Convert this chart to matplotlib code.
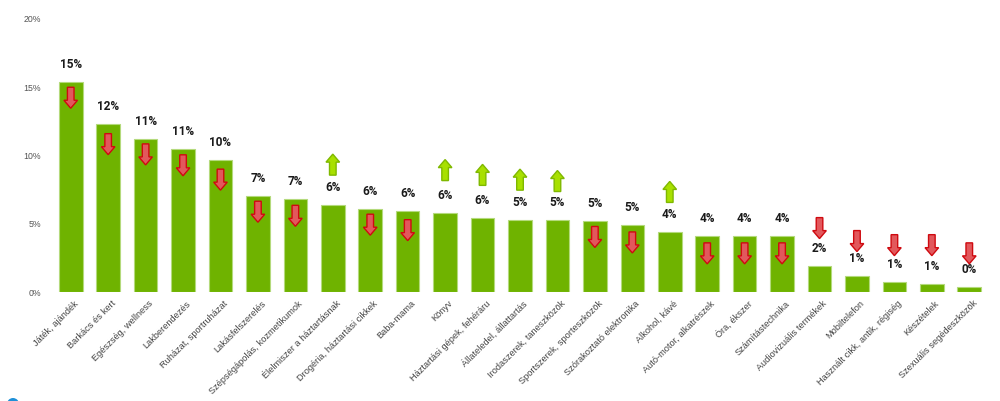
import matplotlib
matplotlib.use("Agg")
import matplotlib.pyplot as plt
from matplotlib.patches import Polygon, Circle
from matplotlib.transforms import ScaledTranslation, IdentityTransform

plt.rcParams['font.family'] = ['Liberation Sans', 'DejaVu Sans']

categories = ["Játék, ajándék", "Barkács és kert", "Egészség, wellness", "Lakberendezés",
              "Ruházat, sportruházat", "Lakásfelszerelés", "Szépségápolás, kozmetikumok",
              "Élelmiszer a háztartásnak", "Drogéria, háztartási cikkek", "Baba-mama", "Könyv",
              "Háztartási gépek, fehéráru", "Állateledel, állattartás", "Irodaszerek, taneszközök",
              "Sportszerek, sporteszközök", "Szórakoztató elektronika", "Alkohol, kávé",
              "Autó-motor, alkatrészek", "Óra, ékszer", "Számítástechnika", "Audiovizuális termékek",
              "Mobiltelefon", "Használt cikk, antik, régiség", "Készételek", "Szexuális segédeszközök"]
values = [15.4, 12.3, 11.2, 10.5, 9.7, 7.0, 6.8, 6.4, 6.1, 5.9, 5.8, 5.45, 5.3, 5.3, 5.2,
          4.9, 4.4, 4.1, 4.1, 4.1, 1.9, 1.2, 0.75, 0.6, 0.4]
labels = ["15%", "12%", "11%", "11%", "10%", "7%", "7%", "6%", "6%", "6%", "6%", "6%", "5%", "5%",
          "5%", "5%", "4%", "4%", "4%", "4%", "2%", "1%", "1%", "1%", "0%"]
trend = ["d", "d", "d", "d", "d", "d", "d", "u", "d", "d", "u", "u", "u", "u", "d", "d", "u",
         "d", "d", "d", "d", "d", "d", "d", "d"]
# level of the upper end of each trend arrow, in % on the value axis
arrow_top = [15.0, 11.6, 10.85, 10.05, 9.0, 6.65, 6.35, 10.1, 5.7, 5.3, 9.7, 9.35, 9.0, 8.9,
             4.8, 4.4, 8.1, 3.6, 3.6, 3.6, 5.45, 4.5, 4.2, 4.2, 3.6]
yticks = [0, 5, 10, 15, 20]

W, H = 1000, 401
fig = plt.figure(figsize=(W / 100, H / 100), dpi=100)
ax = fig.add_axes([52 / W, 1 - 292 / H, 936 / W, 273 / H])
ax.set_xlim(-0.5, len(values) - 0.5)
ax.set_ylim(0, 20)
ax.patch.set_alpha(0)
for s in ax.spines.values():
    s.set_visible(False)

ax.bar(range(len(values)), values, width=0.63, color="#6fb300", edgecolor="#b4da7c", linewidth=0.8)

ax.set_yticks(yticks, [f"{t}%" for t in yticks])
ax.tick_params(axis="y", length=0, labelsize=6.3, labelcolor="#555555", pad=8)
ax.set_xticks(range(len(values)))
ax.set_xticklabels(categories, rotation=45, ha="right", va="top", rotation_mode="anchor",
                   fontsize=6.7, color="#444444")
ax.tick_params(axis="x", length=0, pad=5)
shift = ScaledTranslation(3 / 100, 0, fig.dpi_scale_trans)
for t in ax.get_xticklabels():
    t.set_transform(t.get_transform() + shift)

# value labels, a fixed distance above each bar
for i, (v, l) in enumerate(zip(values, labels)):
    ax.annotate(l, (i, v), xytext=(0, 17.5 * 0.72), textcoords="offset points", ha="center",
                va="center", fontsize=8.5, fontweight="bold", color="#1a1a1a",
                family=["Roboto", "DejaVu Sans"])

# trend arrows, sized in pixels around their anchor on the data scale
down_shape = [(-3.3, 21), (3.3, 21), (3.3, 8), (6.8, 8), (0, 0), (-6.8, 8), (-3.3, 8)]
up_shape = [(0, 21), (6.8, 13), (3.3, 13), (3.3, 0), (-3.3, 0), (-3.3, 13), (-6.8, 13)]
for i, (d, top) in enumerate(zip(trend, arrow_top)):
    px, py = ax.transData.transform((i, top))
    shape = down_shape if d == "d" else up_shape
    pts = [(px + a, py - 21 + b) for a, b in shape]
    fc, ec = ("#e2585c", "#cf0a10") if d == "d" else ("#a8e000", "#7fb800")
    ax.add_patch(Polygon(pts, closed=True, transform=IdentityTransform(), facecolor=fc,
                         edgecolor=ec, linewidth=1.0, zorder=4))

# cropped blue badge at the lower-left edge
fig.add_artist(Circle((13, -3), 6, transform=IdentityTransform(), facecolor="#1e90d8", edgecolor="none"))

fig.savefig("out.png", dpi=100)
